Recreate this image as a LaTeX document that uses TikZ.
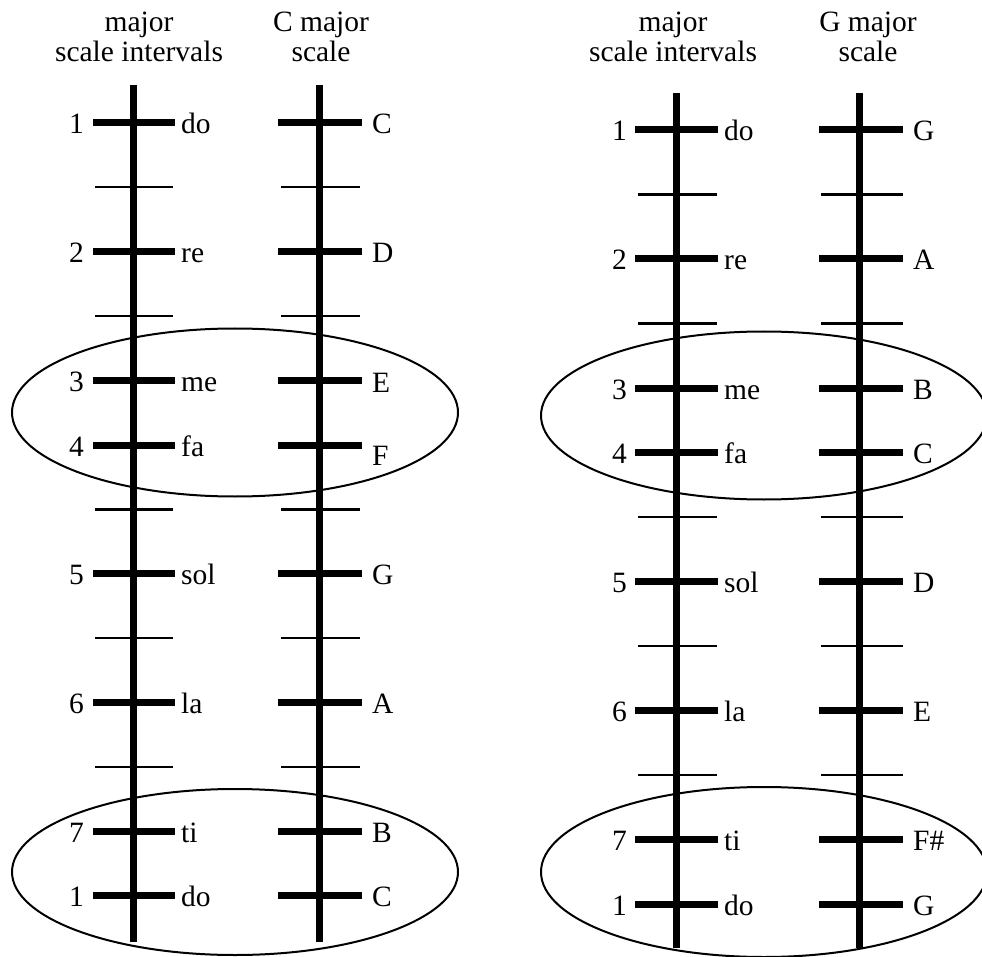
\documentclass[tikz,border=0pt]{standalone}
\usepackage{fontspec}
\setmainfont{Liberation Serif}
\tikzset{
  staff/.style={line width=7pt},
  bigtick/.style={line width=7pt},
  smalltick/.style={line width=2.2pt},
  ring/.style={line width=2pt},
  lbl/.style={font=\fontsize{29.5}{31}\selectfont, inner sep=0pt},
  head/.style={font=\fontsize{29.5}{31}\selectfont, inner sep=0pt, anchor=base}
}
\begin{document}
\begin{tikzpicture}[x=1pt,y=-1pt]
\useasboundingbox (0,0) rectangle (982,957);
% ---------- headers ----------
\node[head] (hA1) at (139,32) {major};
\node[head] (hA2) at (139,62) {scale intervals};
\node[head] (hB1) at (321,32) {C major};
\node[head] (hB2) at (321,62) {scale};
\node[head] (hC1) at (673,32) {major};
\node[head] (hC2) at (673,62) {scale intervals};
\node[head] (hD1) at (868,32) {G major};
\node[head] (hD2) at (868,62) {scale};
% ---------- ellipses ----------
\draw[ring] (235,412.5) ellipse [x radius=223pt, y radius=84pt];
\draw[ring] (235,872) ellipse [x radius=223pt, y radius=83pt];
\draw[ring] (764,415.5) ellipse [x radius=223pt, y radius=84pt];
\draw[ring] (764,872) ellipse [x radius=223pt, y radius=85pt];
% ---------- staffs ----------
\coordinate (A1top) at (133,85);  \coordinate (A1bot) at (133,942);
\coordinate (A2top) at (319,85);  \coordinate (A2bot) at (319,942);
\coordinate (B1top) at (676,93);  \coordinate (B1bot) at (676,948);
\coordinate (B2top) at (859,93);  \coordinate (B2bot) at (859,948);
\draw[staff] (A1top) -- (A1bot);
\draw[staff] (A2top) -- (A2bot);
\draw[staff] (B1top) -- (B1bot);
\draw[staff] (B2top) -- (B2bot);
% ---------- left diagram ticks ----------
\foreach \i in {1,3,6,8,10}{
  \pgfmathsetmacro\yy{123+\i*64.4}
  \coordinate (La\i) at (95,\yy);  \coordinate (Lb\i) at (173,\yy);
  \coordinate (Lc\i) at (281,\yy); \coordinate (Ld\i) at (360,\yy);
  \draw[smalltick] (La\i) -- (Lb\i);
  \draw[smalltick] (Lc\i) -- (Ld\i);
}
\foreach \i/\n/\s/\c/\dy in {0/1/do/C/0,2/2/re/D/0,4/3/me/E/1,5/4/fa/F/9,7/5/sol/G/0,9/6/la/A/0,11/7/ti/B/0,12/1/do/C/0}{
  \pgfmathsetmacro\yy{123+\i*64.4}
  \coordinate (La\i) at (93,\yy);  \coordinate (Lb\i) at (175,\yy);
  \coordinate (Lc\i) at (278,\yy); \coordinate (Ld\i) at (362,\yy);
  \draw[bigtick] (La\i) -- (Lb\i);
  \draw[bigtick] (Lc\i) -- (Ld\i);
  \node[lbl,anchor=base east] (Ln\i) at (84,\yy+11) {\n};
  \node[lbl,anchor=base west] (Ls\i) at (181,\yy+11) {\s};
  \node[lbl,anchor=base west] (Lk\i) at (372,\yy+11+\dy) {\c};
}
% ---------- right diagram ticks ----------
\foreach \i in {1,3,6,8,10}{
  \pgfmathsetmacro\yy{130+\i*64.5}
  \coordinate (Ra\i) at (638,\yy); \coordinate (Rb\i) at (717,\yy);
  \coordinate (Rc\i) at (821,\yy); \coordinate (Rd\i) at (903,\yy);
  \draw[smalltick] (Ra\i) -- (Rb\i);
  \draw[smalltick] (Rc\i) -- (Rd\i);
}
\foreach \i/\n/\s/\c in {0/1/do/G,2/2/re/A,4/3/me/B,5/4/fa/C,7/5/sol/D,9/6/la/E,11/7/ti/F\#,12/1/do/G}{
  \pgfmathsetmacro\yy{130+\i*64.5}
  \coordinate (Ra\i) at (635,\yy); \coordinate (Rb\i) at (718,\yy);
  \coordinate (Rc\i) at (819,\yy); \coordinate (Rd\i) at (903,\yy);
  \draw[bigtick] (Ra\i) -- (Rb\i);
  \draw[bigtick] (Rc\i) -- (Rd\i);
  \node[lbl,anchor=base east] (Rn\i) at (627,\yy+11) {\n};
  \node[lbl,anchor=base west] (Rs\i) at (724,\yy+11) {\s};
  \node[lbl,anchor=base west] (Rk\i) at (913,\yy+11) {\c};
}
\end{tikzpicture}
\end{document}
